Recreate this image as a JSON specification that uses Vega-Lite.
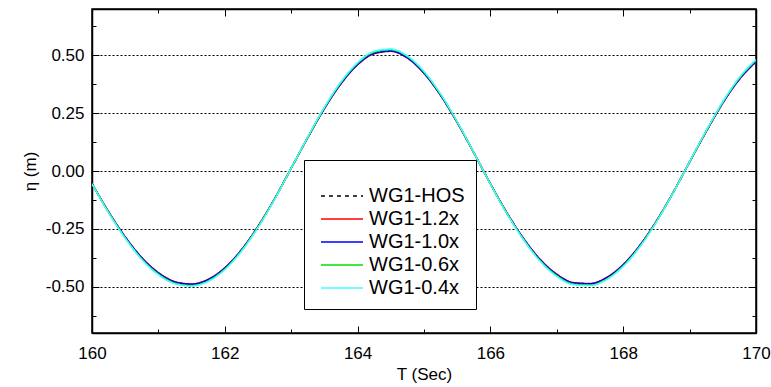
{
  "$schema": "https://vega.github.io/schema/vega-lite/v6.json",
  "width": 664,
  "height": 324,
  "autosize": {"type": "none"},
  "padding": {"left": 92, "top": 9, "right": 15, "bottom": 54},
  "background": "white",
  "config": {
    "view": {"stroke": "#000", "strokeWidth": 1.5},
    "font": "Liberation Sans",
    "axis": {"labelFont": "Liberation Sans", "titleFont": "Liberation Sans", "labelColor": "#000", "titleColor": "#000", "domainColor": "#000", "domainWidth": 1.5, "tickColor": "#000", "tickWidth": 1, "titleFontWeight": "normal"}
  },
  "data": {"values": [
    {"t":160,"a":-0.055,"b":-0.055,"c":-0.055,"d":-0.056,"e":-0.056},
    {"t":160.25,"a":-0.177,"b":-0.176,"c":-0.177,"d":-0.179,"e":-0.180},
    {"t":160.5,"a":-0.286,"b":-0.285,"c":-0.285,"d":-0.289,"e":-0.290},
    {"t":160.75,"a":-0.376,"b":-0.374,"c":-0.375,"d":-0.380,"e":-0.382},
    {"t":161,"a":-0.441,"b":-0.439,"c":-0.440,"d":-0.445,"e":-0.448},
    {"t":161.25,"a":-0.480,"b":-0.478,"c":-0.479,"d":-0.485,"e":-0.487},
    {"t":161.5,"a":-0.490,"b":-0.488,"c":-0.489,"d":-0.495,"e":-0.497},
    {"t":161.75,"a":-0.470,"b":-0.468,"c":-0.469,"d":-0.475,"e":-0.477},
    {"t":162,"a":-0.420,"b":-0.418,"c":-0.419,"d":-0.424,"e":-0.426},
    {"t":162.25,"a":-0.342,"b":-0.341,"c":-0.341,"d":-0.345,"e":-0.347},
    {"t":162.5,"a":-0.240,"b":-0.239,"c":-0.240,"d":-0.242,"e":-0.244},
    {"t":162.75,"a":-0.120,"b":-0.120,"c":-0.120,"d":-0.121,"e":-0.122},
    {"t":163,"a":0.012,"b":0.012,"c":0.012,"d":0.012,"e":0.012},
    {"t":163.25,"a":0.145,"b":0.144,"c":0.145,"d":0.146,"e":0.147},
    {"t":163.5,"a":0.271,"b":0.270,"c":0.270,"d":0.274,"e":0.275},
    {"t":163.75,"a":0.379,"b":0.377,"c":0.378,"d":0.383,"e":0.385},
    {"t":164,"a":0.461,"b":0.459,"c":0.460,"d":0.466,"e":0.468},
    {"t":164.25,"a":0.509,"b":0.507,"c":0.508,"d":0.514,"e":0.517},
    {"t":164.5,"a":0.519,"b":0.517,"c":0.518,"d":0.524,"e":0.527},
    {"t":164.75,"a":0.490,"b":0.488,"c":0.489,"d":0.495,"e":0.497},
    {"t":165,"a":0.424,"b":0.422,"c":0.423,"d":0.428,"e":0.430},
    {"t":165.25,"a":0.328,"b":0.327,"c":0.327,"d":0.331,"e":0.333},
    {"t":165.5,"a":0.210,"b":0.209,"c":0.210,"d":0.212,"e":0.213},
    {"t":165.75,"a":0.079,"b":0.079,"c":0.079,"d":0.080,"e":0.080},
    {"t":166,"a":-0.055,"b":-0.055,"c":-0.055,"d":-0.056,"e":-0.056},
    {"t":166.25,"a":-0.182,"b":-0.181,"c":-0.182,"d":-0.184,"e":-0.185},
    {"t":166.5,"a":-0.293,"b":-0.292,"c":-0.292,"d":-0.296,"e":-0.297},
    {"t":166.75,"a":-0.384,"b":-0.382,"c":-0.383,"d":-0.388,"e":-0.390},
    {"t":167,"a":-0.448,"b":-0.446,"c":-0.447,"d":-0.452,"e":-0.455},
    {"t":167.25,"a":-0.484,"b":-0.482,"c":-0.483,"d":-0.489,"e":-0.491},
    {"t":167.5,"a":-0.488,"b":-0.486,"c":-0.487,"d":-0.493,"e":-0.495},
    {"t":167.75,"a":-0.462,"b":-0.460,"c":-0.461,"d":-0.467,"e":-0.469},
    {"t":168,"a":-0.406,"b":-0.404,"c":-0.405,"d":-0.410,"e":-0.412},
    {"t":168.25,"a":-0.323,"b":-0.322,"c":-0.322,"d":-0.326,"e":-0.328},
    {"t":168.5,"a":-0.217,"b":-0.216,"c":-0.217,"d":-0.219,"e":-0.220},
    {"t":168.75,"a":-0.094,"b":-0.094,"c":-0.094,"d":-0.095,"e":-0.095},
    {"t":169,"a":0.039,"b":0.039,"c":0.039,"d":0.039,"e":0.040},
    {"t":169.25,"a":0.171,"b":0.170,"c":0.171,"d":0.173,"e":0.174},
    {"t":169.5,"a":0.295,"b":0.294,"c":0.294,"d":0.298,"e":0.299},
    {"t":169.75,"a":0.398,"b":0.396,"c":0.397,"d":0.402,"e":0.404},
    {"t":170,"a":0.474,"b":0.472,"c":0.473,"d":0.479,"e":0.481}
  ]},
  "transform": [{"fold": ["a", "b", "c", "d", "e"], "as": ["series", "eta"]}],
  "resolve": {"axis": {"x": "independent", "y": "independent"}},
  "layer": [
    {
      "mark": {"type": "line", "strokeWidth": 1.5, "interpolate": "monotone", "clip": true},
      "encoding": {
        "x": {"field": "t", "type": "quantitative", "scale": {"domain": [160, 170], "nice": false},
          "axis": {"orient": "bottom", "title": "T (Sec)", "values": [160,161,162,163,164,165,166,167,168,169,170],
            "labelExpr": "datum.value % 2 == 0 ? datum.label : ''", "labelFontSize": 17, "titleFontSize": 17,
            "grid": false, "tickSize": {"condition": {"test": "datum.value % 2 == 0", "value": -7}, "value": -4},
            "labelPadding": 19, "titlePadding": 5, "labelFlush": false}},
        "y": {"field": "eta", "type": "quantitative", "scale": {"domain": [-0.7, 0.7], "nice": false},
          "axis": {"orient": "left", "title": "η (m)", "values": [-0.625,-0.5,-0.375,-0.25,-0.125,0,0.125,0.25,0.375,0.5,0.625],
            "format": ".2f",
            "labelExpr": "abs(datum.value*4 - round(datum.value*4)) < 0.01 ? replace(datum.label, '−', '-') : ''", "labelFontSize": 17, "titleFontSize": 17,
            "grid": true, "gridColor": "#000", "gridDash": [2, 2], "gridWidth": 1,
            "gridOpacity": {"condition": {"test": "abs(datum.value*4 - round(datum.value*4)) < 0.01", "value": 1}, "value": 0},
            "tickSize": {"condition": {"test": "abs(datum.value*4 - round(datum.value*4)) < 0.01", "value": -7}, "value": -4},
            "labelPadding": 15, "titlePadding": 6}},
        "color": {"field": "series", "type": "nominal",
          "scale": {"domain": ["a", "b", "c", "d", "e"], "range": ["#000000", "#ff0000", "#0000ff", "#00e000", "#40ffff"]},
          "legend": {"orient": "none", "legendX": 212, "legendY": 151, "title": " ", "titleFontSize": 11, "titlePadding": 4,
            "labelExpr": "{'a':'WG1-HOS','b':'WG1-1.2x','c':'WG1-1.0x','d':'WG1-0.6x','e':'WG1-0.4x'}[datum.label]",
            "labelFontSize": 20, "labelFont": "Liberation Sans", "labelColor": "#000", "symbolType": "M-2.5,0H2.5", "symbolSize": 283,
            "symbolStrokeWidth": 1.5, "symbolOffset": 17, "labelOffset": 17, "rowPadding": 3, "padding": 11,
            "strokeColor": "#000", "fillColor": "#fff", "labelLimit": 300}},
        "strokeDash": {"field": "series", "type": "nominal",
          "scale": {"domain": ["a", "b", "c", "d", "e"], "range": [[4, 4], [1, 0], [1, 0], [1, 0], [1, 0]]},
          "legend": {"orient": "none", "legendX": 212, "legendY": 151, "title": " ", "titleFontSize": 11, "titlePadding": 4,
            "labelExpr": "{'a':'WG1-HOS','b':'WG1-1.2x','c':'WG1-1.0x','d':'WG1-0.6x','e':'WG1-0.4x'}[datum.label]",
            "labelFontSize": 20, "labelFont": "Liberation Sans", "labelColor": "#000", "symbolType": "M-2.5,0H2.5", "symbolSize": 283,
            "symbolStrokeWidth": 1.5, "symbolOffset": 17, "labelOffset": 17, "rowPadding": 3, "padding": 11,
            "strokeColor": "#000", "fillColor": "#fff", "labelLimit": 300}}
      }
    },
    {
      "mark": {"type": "point", "opacity": 0},
      "encoding": {
        "x": {"field": "t", "type": "quantitative",
          "axis": {"orient": "top", "title": null, "labels": false, "grid": false, "values": [160,161,162,163,164,165,166,167,168,169,170],
            "tickSize": {"condition": {"test": "datum.value % 2 == 0", "value": -7}, "value": -4}}},
        "y": {"field": "eta", "type": "quantitative",
          "axis": {"orient": "right", "title": null, "labels": false, "grid": false, "values": [-0.625,-0.5,-0.375,-0.25,-0.125,0,0.125,0.25,0.375,0.5,0.625],
            "tickSize": {"condition": {"test": "abs(datum.value*4 - round(datum.value*4)) < 0.01", "value": -7}, "value": -4}}}
      }
    }
  ]
}
